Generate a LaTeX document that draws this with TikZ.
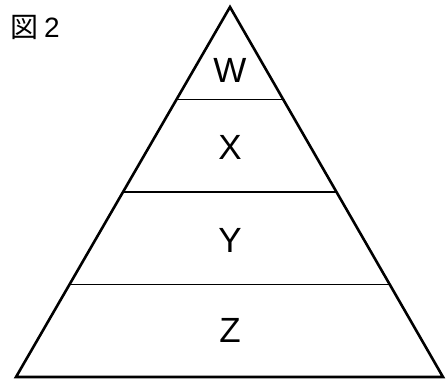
\documentclass[tikz,border=0pt]{standalone}
\usepackage{fontspec}
\setmainfont{Liberation Sans}
\newfontfamily\jpfont{Noto Sans CJK JP}
\usetikzlibrary{positioning,calc}
\tikzset{
  edge/.style={line width=2.6pt,line join=miter},
  layer/.style={line width=1.2pt},
  lvl/.style={font=\fontsize{35}{35}\selectfont,inner sep=0pt},
  ttl/.style={font=\fontsize{28}{28}\selectfont,inner sep=0pt,anchor=west},
}

\begin{document}
\begin{tikzpicture}[x=1pt,y=-1pt]
  \useasboundingbox (0,0) rectangle (446,383);
  % pyramid outline
  \coordinate (top) at (230,7);
  \coordinate (bl) at (16,377);
  \coordinate (br) at (443,377);
  \draw[edge] (top) -- (bl) -- (br) -- cycle;
  % layer boundaries
  \foreach \frac/\nm in {0.25/one,0.5/two,0.75/three}{
    \coordinate (\nm L) at ($(top)!\frac!(bl)$);
    \coordinate (\nm R) at ($(top)!\frac!(br)$);
    \draw[layer] (\nm L) -- (\nm R);
  }
  % labels
  \node[lvl] (w) at (230,70) {W};
  \node[lvl] (x) at (230,147) {X};
  \node[lvl] (y) at (230,240) {Y};
  \node[lvl] (z) at (230,330) {Z};
  \node[ttl] (fig) at (10,27) {{\jpfont 図}\hspace{6pt}2};
\end{tikzpicture}
\end{document}
